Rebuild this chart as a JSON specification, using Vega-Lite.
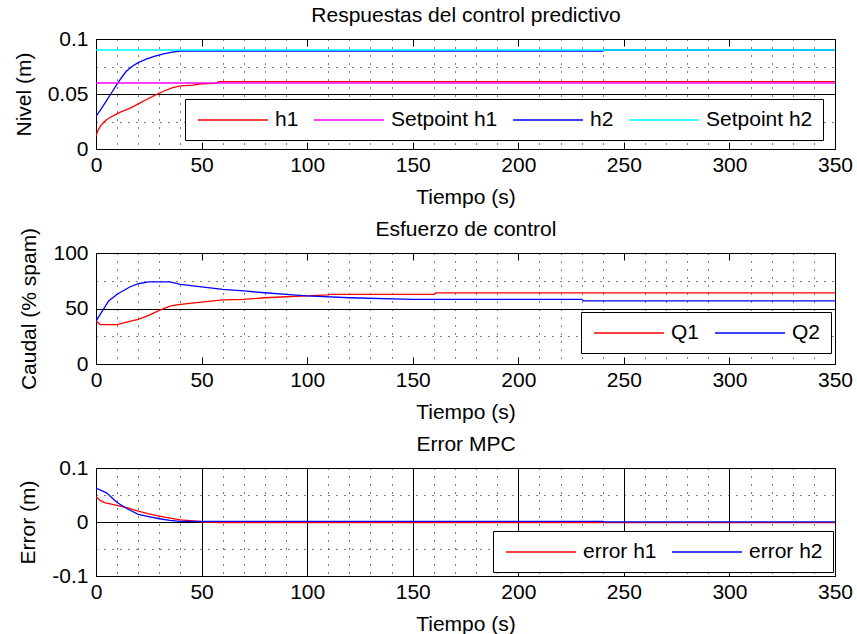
{
  "$schema": "https://vega.github.io/schema/vega-lite/v6.json",
  "background": "white",
  "padding": {"left": 12, "top": 3, "right": 0, "bottom": 0},
  "spacing": 9,
  "config": {
    "font": "Liberation Sans",
    "view": {"stroke": "#000", "strokeWidth": 1},
    "axis": {
      "labelFontSize": 21, "labelColor": "#000", "labelFont": "Liberation Sans",
      "titleFontSize": 21, "titleFontWeight": "normal", "titleColor": "#000", "titleFont": "Liberation Sans",
      "domain": false, "tickColor": "#000", "tickSize": -7, "tickWidth": 1, "labelPadding": 12.5,
      "gridColor": "#000", "gridWidth": 1, "labelFlush": false, "labelOverlap": false, "titlePadding": 10.5
    },
    "axisY": {"labelPadding": 15, "titlePadding": 13},
    "legend": {
      "orient": "none", "direction": "horizontal", "symbolType": "M-3.5,0H3.5", "symbolSize": 400,
      "symbolOffset": 27, "symbolStrokeWidth": 2, "labelFontSize": 21, "labelColor": "#000", "labelFont": "Liberation Sans",
      "labelOffset": 31, "columnPadding": 12, "padding": 10, "strokeColor": "#000", "fillColor": "#fff",
      "labelLimit": 400, "symbolOpacity": 1
    },
    "line": {"strokeWidth": 1.3}
  },
  "resolve": {"scale": {"color": "independent"}, "legend": {"color": "independent"}},
  "vconcat": [
    {
      "width": 739, "height": 110,
      "data": {"values": [
        {"t": 0, "v": 0.012, "s": "h1"}, {"t": 1, "v": 0.017, "s": "h1"}, {"t": 2, "v": 0.0205, "s": "h1"},
        {"t": 4, "v": 0.025, "s": "h1"}, {"t": 6, "v": 0.028, "s": "h1"}, {"t": 9, "v": 0.031, "s": "h1"},
        {"t": 12, "v": 0.034, "s": "h1"}, {"t": 16, "v": 0.037, "s": "h1"}, {"t": 20, "v": 0.041, "s": "h1"},
        {"t": 24, "v": 0.045, "s": "h1"}, {"t": 28, "v": 0.049, "s": "h1"}, {"t": 32, "v": 0.0525, "s": "h1"},
        {"t": 36, "v": 0.0555, "s": "h1"}, {"t": 40, "v": 0.0573, "s": "h1"}, {"t": 46, "v": 0.058, "s": "h1"},
        {"t": 50, "v": 0.0593, "s": "h1"}, {"t": 57, "v": 0.0596, "s": "h1"}, {"t": 58, "v": 0.0613, "s": "h1"},
        {"t": 350, "v": 0.0613, "s": "h1"},
        {"t": 0, "v": 0.03, "s": "h2"}, {"t": 2, "v": 0.035, "s": "h2"}, {"t": 4, "v": 0.041, "s": "h2"},
        {"t": 7, "v": 0.05, "s": "h2"}, {"t": 9, "v": 0.056, "s": "h2"}, {"t": 11, "v": 0.062, "s": "h2"},
        {"t": 14, "v": 0.07, "s": "h2"}, {"t": 17, "v": 0.075, "s": "h2"}, {"t": 20, "v": 0.0785, "s": "h2"},
        {"t": 24, "v": 0.082, "s": "h2"}, {"t": 28, "v": 0.0845, "s": "h2"}, {"t": 32, "v": 0.0865, "s": "h2"},
        {"t": 36, "v": 0.088, "s": "h2"}, {"t": 40, "v": 0.0891, "s": "h2"}, {"t": 240, "v": 0.0891, "s": "h2"},
        {"t": 241, "v": 0.09, "s": "h2"}, {"t": 350, "v": 0.09, "s": "h2"},
        {"t": 0, "v": 0.06, "s": "Setpoint h1"}, {"t": 350, "v": 0.06, "s": "Setpoint h1"},
        {"t": 0, "v": 0.09, "s": "Setpoint h2"}, {"t": 350, "v": 0.09, "s": "Setpoint h2"}
      ]},
      "resolve": {"axis": {"x": "independent", "y": "independent"}},
      "layer": [
        {
          "transform": [{"filter": "datum.s == 'h1' || datum.s == 'h2'"}],
          "mark": {"type": "line", "clip": true},
          "encoding": {
            "x": {"field": "t", "type": "quantitative", "scale": {"domain": [0, 350], "nice": false},
              "axis": {"orient": "bottom", "title": "Tiempo (s)",
                "values": [0,10,20,30,40,50,60,70,80,90,100,110,120,130,140,150,160,170,180,190,200,210,220,230,240,250,260,270,280,290,300,310,320,330,340,350],
                "labelExpr": "datum.value % 50 === 0 ? datum.label : ''",
                "tickOpacity": {"condition": {"test": "datum.value % 50 === 0", "value": 1}, "value": 0},
                "grid": true, "gridDash": [1, 7],
                "gridOpacity": {"condition": {"test": "datum.value % 50 === 0", "value": 0}, "value": 1}}},
            "y": {"field": "v", "type": "quantitative", "scale": {"domain": [0, 0.1], "nice": false},
              "axis": {"orient": "left", "title": "Nivel (m)",
                "values": [0, 0.025, 0.05, 0.075, 0.1],
                "labelExpr": "datum.value == 0 ? '0' : datum.value == 0.05 ? '0.05' : datum.value == 0.1 ? '0.1' : ''",
                "tickOpacity": {"condition": {"test": "datum.value == 0 || datum.value == 0.05 || datum.value == 0.1", "value": 1}, "value": 0},
                "grid": true,
                "gridDash": {"condition": {"test": "datum.value == 0.05", "value": []}, "value": [1, 7]}}},
            "color": {"field": "s", "type": "nominal",
              "scale": {"domain": ["h1", "Setpoint h1", "h2", "Setpoint h2"], "range": ["#FF0000", "#FF00FF", "#0000FF", "#00FFFF"]},
              "legend": {"title": null, "legendX": 89, "legendY": 60}}
          }
        },
        {
          "transform": [{"filter": "datum.s == 'Setpoint h1' || datum.s == 'Setpoint h2'"}],
          "mark": {"type": "line", "clip": true},
          "encoding": {
            "x": {"field": "t", "type": "quantitative",
              "axis": {"orient": "top", "title": "Respuestas del control predictivo", "titlePadding": 13.5, "labels": false, "grid": false,
                "values": [0,50,100,150,200,250,300,350]}},
            "y": {"field": "v", "type": "quantitative",
              "axis": {"orient": "right", "title": null, "labels": false, "grid": false,
                "values": [0, 0.05, 0.1]}},
            "color": {"field": "s", "type": "nominal"}
          }
        }
      ]
    },
    {
      "width": 739, "height": 111,
      "data": {"values": [
        {"t": 0, "v": 39, "s": "Q1"}, {"t": 2, "v": 35.5, "s": "Q1"}, {"t": 10, "v": 35.5, "s": "Q1"},
        {"t": 15, "v": 38, "s": "Q1"}, {"t": 20, "v": 40.2, "s": "Q1"}, {"t": 25, "v": 43.8, "s": "Q1"},
        {"t": 30, "v": 48.3, "s": "Q1"}, {"t": 35, "v": 52.2, "s": "Q1"}, {"t": 40, "v": 53.7, "s": "Q1"},
        {"t": 50, "v": 55.8, "s": "Q1"}, {"t": 60, "v": 57.7, "s": "Q1"}, {"t": 70, "v": 58.3, "s": "Q1"},
        {"t": 80, "v": 59.7, "s": "Q1"}, {"t": 90, "v": 60.6, "s": "Q1"}, {"t": 100, "v": 61.3, "s": "Q1"},
        {"t": 110, "v": 62.2, "s": "Q1"}, {"t": 111, "v": 62.8, "s": "Q1"}, {"t": 160, "v": 62.8, "s": "Q1"},
        {"t": 161, "v": 64, "s": "Q1"}, {"t": 350, "v": 64, "s": "Q1"},
        {"t": 0, "v": 38.7, "s": "Q2"}, {"t": 6, "v": 56.8, "s": "Q2"}, {"t": 10, "v": 62.8, "s": "Q2"},
        {"t": 16, "v": 69.4, "s": "Q2"}, {"t": 20, "v": 72.3, "s": "Q2"}, {"t": 25, "v": 73.9, "s": "Q2"},
        {"t": 35, "v": 73.9, "s": "Q2"}, {"t": 40, "v": 71.8, "s": "Q2"}, {"t": 50, "v": 69.4, "s": "Q2"},
        {"t": 60, "v": 67.3, "s": "Q2"}, {"t": 70, "v": 65.8, "s": "Q2"}, {"t": 80, "v": 64.2, "s": "Q2"},
        {"t": 90, "v": 62.8, "s": "Q2"}, {"t": 100, "v": 61.3, "s": "Q2"}, {"t": 120, "v": 59.7, "s": "Q2"},
        {"t": 150, "v": 58.3, "s": "Q2"}, {"t": 230, "v": 58.3, "s": "Q2"}, {"t": 231, "v": 56.8, "s": "Q2"},
        {"t": 350, "v": 56.8, "s": "Q2"}
      ]},
      "resolve": {"axis": {"x": "independent", "y": "independent"}},
      "layer": [
        {
          "transform": [{"filter": "datum.s == 'Q1'"}],
          "mark": {"type": "line", "clip": true},
          "encoding": {
            "x": {"field": "t", "type": "quantitative", "scale": {"domain": [0, 350], "nice": false},
              "axis": {"orient": "bottom", "title": "Tiempo (s)",
                "values": [0,10,20,30,40,50,60,70,80,90,100,110,120,130,140,150,160,170,180,190,200,210,220,230,240,250,260,270,280,290,300,310,320,330,340,350],
                "labelExpr": "datum.value % 50 === 0 ? datum.label : ''",
                "tickOpacity": {"condition": {"test": "datum.value % 50 === 0", "value": 1}, "value": 0},
                "grid": true, "gridDash": [1, 7],
                "gridOpacity": {"condition": {"test": "datum.value % 50 === 0", "value": 0}, "value": 1}}},
            "y": {"field": "v", "type": "quantitative", "scale": {"domain": [0, 100], "nice": false},
              "axis": {"orient": "left", "title": "Caudal (% spam)",
                "values": [0, 25, 50, 75, 100],
                "labelExpr": "datum.value % 50 === 0 ? datum.label : ''",
                "tickOpacity": {"condition": {"test": "datum.value % 50 === 0", "value": 1}, "value": 0},
                "grid": true,
                "gridDash": {"condition": {"test": "datum.value == 50", "value": []}, "value": [1, 7]}}},
            "color": {"field": "s", "type": "nominal",
              "scale": {"domain": ["Q1", "Q2"], "range": ["#FF0000", "#0000FF"]},
              "legend": {"title": null, "legendX": 485, "legendY": 59}}
          }
        },
        {
          "transform": [{"filter": "datum.s == 'Q2'"}],
          "mark": {"type": "line", "clip": true},
          "encoding": {
            "x": {"field": "t", "type": "quantitative",
              "axis": {"orient": "top", "title": "Esfuerzo de control", "titlePadding": 13.5, "labels": false, "grid": false,
                "values": [0,50,100,150,200,250,300,350]}},
            "y": {"field": "v", "type": "quantitative",
              "axis": {"orient": "right", "title": null, "labels": false, "grid": false,
                "values": [0, 50, 100]}},
            "color": {"field": "s", "type": "nominal"}
          }
        }
      ]
    },
    {
      "width": 739, "height": 108,
      "data": {"values": [
        {"t": 0, "v": 0.047, "s": "error h1"}, {"t": 2, "v": 0.04, "s": "error h1"}, {"t": 4, "v": 0.036, "s": "error h1"},
        {"t": 10, "v": 0.031, "s": "error h1"}, {"t": 15, "v": 0.026, "s": "error h1"}, {"t": 20, "v": 0.02, "s": "error h1"},
        {"t": 25, "v": 0.015, "s": "error h1"}, {"t": 30, "v": 0.011, "s": "error h1"}, {"t": 35, "v": 0.007, "s": "error h1"},
        {"t": 40, "v": 0.004, "s": "error h1"}, {"t": 46, "v": 0.002, "s": "error h1"}, {"t": 50, "v": 0.0005, "s": "error h1"},
        {"t": 58, "v": -0.001, "s": "error h1"}, {"t": 350, "v": -0.001, "s": "error h1"},
        {"t": 0, "v": 0.063, "s": "error h2"}, {"t": 5, "v": 0.054, "s": "error h2"}, {"t": 10, "v": 0.036, "s": "error h2"},
        {"t": 15, "v": 0.024, "s": "error h2"}, {"t": 20, "v": 0.014, "s": "error h2"}, {"t": 25, "v": 0.01, "s": "error h2"},
        {"t": 30, "v": 0.006, "s": "error h2"}, {"t": 35, "v": 0.003, "s": "error h2"}, {"t": 40, "v": 0.0012, "s": "error h2"},
        {"t": 240, "v": 0.0012, "s": "error h2"}, {"t": 241, "v": 0.0004, "s": "error h2"}, {"t": 350, "v": 0.0004, "s": "error h2"}
      ]},
      "resolve": {"axis": {"x": "independent", "y": "independent"}},
      "layer": [
        {
          "transform": [{"filter": "datum.s == 'error h1'"}],
          "mark": {"type": "line", "clip": true},
          "encoding": {
            "x": {"field": "t", "type": "quantitative", "scale": {"domain": [0, 350], "nice": false},
              "axis": {"orient": "bottom", "title": "Tiempo (s)",
                "values": [0,10,20,30,40,50,60,70,80,90,100,110,120,130,140,150,160,170,180,190,200,210,220,230,240,250,260,270,280,290,300,310,320,330,340,350],
                "labelExpr": "datum.value % 50 === 0 ? datum.label : ''",
                "tickOpacity": {"condition": {"test": "datum.value % 50 === 0", "value": 1}, "value": 0},
                "grid": true,
                "gridDash": {"condition": {"test": "datum.value % 50 === 0", "value": []}, "value": [1, 7]}}},
            "y": {"field": "v", "type": "quantitative", "scale": {"domain": [-0.1, 0.1], "nice": false},
              "axis": {"orient": "left", "title": "Error (m)",
                "values": [-0.1, -0.05, 0, 0.05, 0.1],
                "labelExpr": "datum.value == -0.1 ? '-0.1' : datum.value == 0 ? '0' : datum.value == 0.1 ? '0.1' : ''",
                "tickOpacity": {"condition": {"test": "datum.value == 0 || datum.value == -0.1 || datum.value == 0.1", "value": 1}, "value": 0},
                "grid": true,
                "gridDash": {"condition": {"test": "datum.value == 0", "value": []}, "value": [1, 7]}}},
            "color": {"field": "s", "type": "nominal",
              "scale": {"domain": ["error h1", "error h2"], "range": ["#FF0000", "#0000FF"]},
              "legend": {"title": null, "legendX": 397, "legendY": 63}}
          }
        },
        {
          "transform": [{"filter": "datum.s == 'error h2'"}],
          "mark": {"type": "line", "clip": true},
          "encoding": {
            "x": {"field": "t", "type": "quantitative",
              "axis": {"orient": "top", "title": "Error MPC", "titlePadding": 13.5, "labels": false, "grid": false,
                "values": [0,50,100,150,200,250,300,350]}},
            "y": {"field": "v", "type": "quantitative",
              "axis": {"orient": "right", "title": null, "labels": false, "grid": false,
                "values": [-0.1, 0, 0.1]}},
            "color": {"field": "s", "type": "nominal"}
          }
        }
      ]
    }
  ]
}
